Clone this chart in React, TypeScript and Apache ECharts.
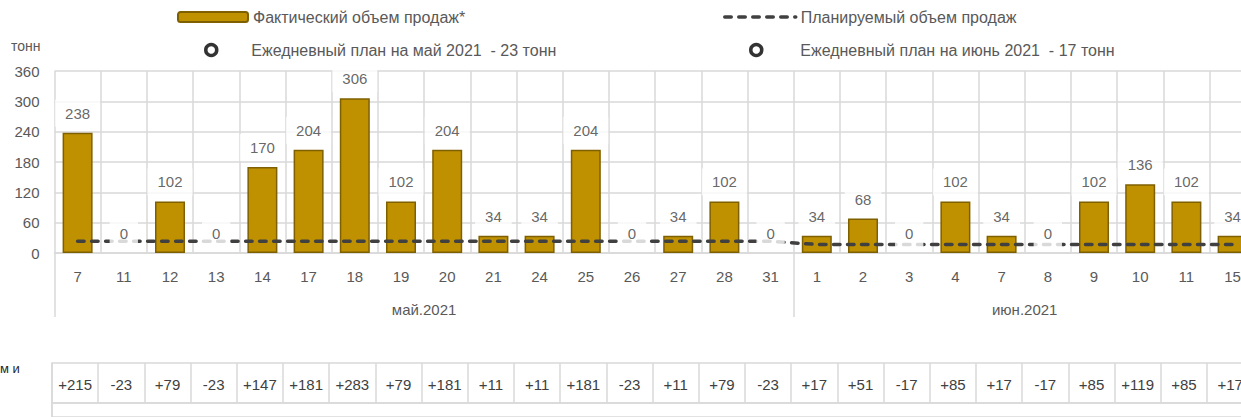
import React, { useEffect, useRef } from "react";
import * as echarts from "echarts";

const categories = ["7", "11", "12", "13", "14", "17", "18", "19", "20", "21", "24", "25", "26", "27", "28", "31", "1", "2", "3", "4", "7", "8", "9", "10", "11", "15"];
const actual = [238, 0, 102, 0, 170, 204, 306, 102, 204, 34, 34, 204, 0, 34, 102, 0, 34, 68, 0, 102, 34, 0, 102, 136, 102, 34];
const plan = [23, 23, 23, 23, 23, 23, 23, 23, 23, 23, 23, 23, 23, 23, 23, 23, 17, 17, 17, 17, 17, 17, 17, 17, 17, 17];
const deviation = ["+215", "-23", "+79", "-23", "+147", "+181", "+283", "+79", "+181", "+11", "+11", "+181", "-23", "+11", "+79", "-23", "+17", "+51", "-17", "+85", "+17", "-17", "+85", "+119", "+85", "+17"];
const months = ["май.2021", "июн.2021"];
const monthCounts = [16, 10];
const yTicks = [0, 60, 120, 180, 240, 300, 360];

const seriesNames = {
  actual: "Фактический объем продаж*",
  plan: "Планируемый объем продаж",
  may: "Ежедневный план на май 2021  - 23 тонн",
  june: "Ежедневный план на июнь 2021  - 17 тонн",
};

const FONT = "'Liberation Sans', Arial, sans-serif";
const GRID_COLOR = "#d9d9d9";
const N = categories.length;

export default function App() {
  const ref = useRef<HTMLDivElement>(null);
  useEffect(() => {
    if (!ref.current) return;
    const chart = echarts.init(ref.current, undefined, { renderer: "svg" });

    const bounds: number[] = [0];
    const centers: number[] = [];
    let acc = 0;
    monthCounts.forEach((c) => {
      centers.push(acc + c / 2);
      acc += c;
      bounds.push(acc);
    });
    const monthStarts = bounds.slice(0, -1);

    const catW = 46.2;
    const plotW = catW * N;

    const legendText = { color: "#595959", fontSize: 16, fontFamily: FONT };
    const ringStyle = { color: "#ffffff", borderColor: "#000000", borderWidth: 3.5 };

    chart.setOption({
      animation: false,
      textStyle: { fontFamily: FONT },
      legend: [
        { data: [seriesNames.actual], left: 177, top: 9, padding: 0, itemWidth: 70, itemHeight: 10, textStyle: legendText, selectedMode: false },
        {
          data: [{ name: seriesNames.plan, itemStyle: { opacity: 0 }, lineStyle: { width: 3.5, color: "#404040", type: [6.5, 7.5], cap: "round" } }],
          left: 723, top: 9, padding: 0, itemWidth: 71, itemHeight: 10, textStyle: legendText, selectedMode: false,
          lineStyle: { width: 3.5 },
        },
        {
          data: [{ name: seriesNames.may, icon: "circle", itemStyle: ringStyle }],
          left: 204, top: 42, padding: 0, itemWidth: 70, itemHeight: 11, textStyle: legendText, selectedMode: false,
        },
        {
          data: [{ name: seriesNames.june, icon: "circle", itemStyle: ringStyle }],
          left: 749, top: 42, padding: 0, itemWidth: 78, itemHeight: 11, textStyle: legendText, selectedMode: false,
        },
      ],
      grid: [
        { left: 54.5, top: 71, height: 182, width: plotW, containLabel: false },
        { left: 52, top: 363, height: 40, width: plotW, show: true, borderColor: GRID_COLOR, borderWidth: 1.5 },
        { left: 52, top: 403, height: 40, width: plotW, show: true, borderColor: GRID_COLOR, borderWidth: 1.5 },
      ],
      xAxis: [
        {
          type: "category",
          gridIndex: 0,
          data: categories,
          axisLine: { show: true, lineStyle: { color: GRID_COLOR, width: 1.5 } },
          axisTick: { show: false },
          axisLabel: { color: "#595959", fontSize: 15, margin: 16, interval: 0 },
          splitLine: { show: true, interval: 0, lineStyle: { color: GRID_COLOR, width: 1.5 } },
        },
        {
          type: "value",
          gridIndex: 0,
          position: "bottom",
          min: 0,
          max: N,
          axisLine: { show: false },
          splitLine: { show: false },
          axisTick: { show: true, customValues: bounds, length: 64, lineStyle: { color: GRID_COLOR, width: 1.5 } },
          axisLabel: {
            show: true,
            customValues: centers,
            margin: 49,
            color: "#595959",
            fontSize: 15,
            formatter: (v: number) => {
              const i = centers.indexOf(v);
              return i >= 0 ? months[i] : "";
            },
          },
        },
        {
          type: "category",
          gridIndex: 1,
          data: deviation,
          axisLine: { show: false },
          axisTick: { show: false },
          axisLabel: { color: "#404040", fontSize: 15, margin: -26, interval: 0 },
          splitLine: { show: true, interval: 0, lineStyle: { color: GRID_COLOR, width: 1.5 } },
        },
        {
          type: "category",
          gridIndex: 2,
          data: categories.map(() => ""),
          axisLine: { show: false },
          axisTick: { show: false },
          axisLabel: { show: false },
          splitLine: {
            show: true,
            interval: (idx: number) => monthStarts.indexOf(idx) > 0,
            lineStyle: { color: GRID_COLOR, width: 1.5 },
          },
        },
      ],
      yAxis: [
        {
          type: "value",
          gridIndex: 0,
          min: yTicks[0],
          max: yTicks[yTicks.length - 1],
          interval: yTicks[1] - yTicks[0],
          name: "тонн",
          nameLocation: "end",
          nameGap: 18,
          nameTextStyle: { color: "#595959", fontSize: 14, align: "right", padding: [0, 14, 0, 0] },
          axisLine: { show: false },
          axisTick: { show: false },
          axisLabel: { color: "#595959", fontSize: 15, margin: 15 },
          splitLine: { show: true, lineStyle: { color: GRID_COLOR, width: 1.5 } },
        },
        { type: "value", gridIndex: 1, show: false, min: 0, max: 1 },
        { type: "value", gridIndex: 2, show: false, min: 0, max: 1 },
      ],
      series: [
        {
          name: seriesNames.actual,
          type: "bar",
          xAxisIndex: 0,
          yAxisIndex: 0,
          data: actual.map((v) => (v === 0 ? "-" : v)),
          barWidth: 30,
          itemStyle: { color: "#BF9000", borderColor: "#7F6000", borderWidth: 1.5 },
          z: 2,
        },
        {
          name: seriesNames.plan,
          type: "line",
          xAxisIndex: 0,
          yAxisIndex: 0,
          data: plan,
          symbol: "none",
          lineStyle: { color: "#404040", width: 3.5, type: [6.5, 7.5], cap: "round" },
          itemStyle: { color: "#404040" },
          z: 3,
        },
        {
          name: seriesNames.may,
          type: "scatter",
          xAxisIndex: 0,
          yAxisIndex: 0,
          data: [],
          symbol: "circle",
          itemStyle: ringStyle,
        },
        {
          name: seriesNames.june,
          type: "scatter",
          xAxisIndex: 0,
          yAxisIndex: 0,
          data: [],
          symbol: "circle",
          itemStyle: ringStyle,
        },
        {
          name: "labels",
          type: "scatter",
          xAxisIndex: 0,
          yAxisIndex: 0,
          data: actual,
          symbolSize: 0,
          silent: true,
          z: 10,
          label: {
            show: true,
            position: "top",
            distance: 6,
            formatter: (p: any) => String(actual[p.dataIndex]),
            color: "#404040",
            fontSize: 15,
            backgroundColor: "#ffffff",
            padding: [6, 10],
          },
        },
      ],
      graphic: [
        {
          type: "text",
          left: 0,
          top: 362,
          style: { text: "м и", fill: "#262626", fontSize: 13, fontFamily: FONT },
        },
      ],
    });
    return () => chart.dispose();
  }, []);
  return (
    <div style={{ position: "absolute", left: 0, top: 0, width: 1241, height: 417, overflow: "hidden", background: "#ffffff" }}>
      <div ref={ref} style={{ width: 1280, height: 417 }} />
    </div>
  );
}
